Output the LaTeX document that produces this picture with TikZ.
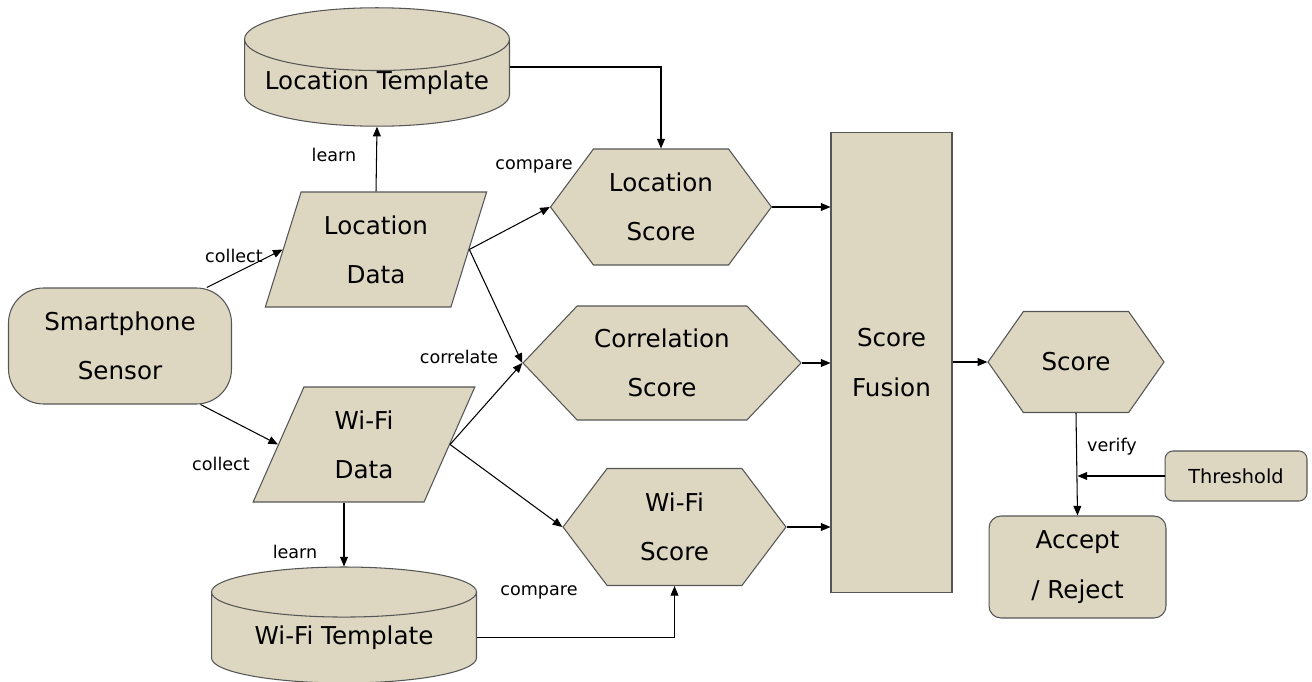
\documentclass[tikz,border=0pt]{standalone}
\usepackage{fontspec}
\setmainfont{DejaVu Sans}
\usetikzlibrary{shapes.geometric,shapes.symbols,arrows.meta}
\definecolor{boxfill}{HTML}{DDD6C1}
\definecolor{boxline}{HTML}{555555}
\begin{document}
\begin{tikzpicture}[x=0.02cm,y=-0.02cm,
    every node/.style={inner sep=0pt},
    blk/.style={draw=boxline,fill=boxfill,line width=0.6pt,align=center,
      font=\fontsize{14}{28}\selectfont},
    datablk/.style={blk,trapezium,trapezium left angle=70,trapezium right angle=110,
      trapezium stretches=true,minimum width=4.44cm,minimum height=2.3cm},
    tplblk/.style={blk,cylinder,shape border rotate=90,aspect=0.28,
      minimum width=5.3cm,minimum height=2.32cm,anchor=shape center},
    scoreblk/.style={blk,signal,signal to=west and east},
    lbl/.style={font=\fontsize{10}{12}\selectfont},
    flow/.style={-{Triangle[length=5.5pt,width=4.5pt]},line width=0.6pt}]
    \useasboundingbox (0,0) rectangle (1312,682);
    % inputs
    \node[blk,rounded corners=0.7cm,minimum width=4.46cm,minimum height=2.32cm] (sensor) at (120,346) {Smartphone\\Sensor};
    \node[datablk] (locdata) at (376,249.5) {Location\\Data};
    \node[datablk] (wdata) at (364,444.5) {Wi-Fi\\Data};
    \node[tplblk] (loctpl) at (377,67) {Location Template};
    \node[tplblk] (wtpl) at (344,625) {Wi-Fi Template};
    % scores
    \node[scoreblk,signal pointer angle=107,minimum width=4.42cm,minimum height=2.32cm] (locscore) at (661,207) {Location\\Score};
    \node[scoreblk,signal pointer angle=93,minimum width=5.56cm,minimum height=2.28cm] (corrscore) at (662,363) {Correlation\\Score};
    \node[scoreblk,signal pointer angle=106,minimum width=4.46cm,minimum height=2.34cm] (wscore) at (674.5,527) {Wi-Fi\\Score};
    \node[blk,minimum width=2.42cm,minimum height=9.22cm] (fusion) at (891.5,362.5) {Score\\Fusion};
    \node[scoreblk,signal pointer angle=110,minimum width=3.52cm,minimum height=2.02cm] (score) at (1076,362) {Score};
    \node[blk,rounded corners=0.16cm,minimum width=2.84cm,minimum height=1cm,
      font=\fontsize{11}{13}\selectfont] (thresh) at (1236,476) {Threshold};
    \node[blk,rounded corners=0.24cm,minimum width=3.54cm,minimum height=2.04cm] (decide) at (1077.5,567) {Accept\\/ Reject};
    \coordinate (vjoin) at (decide.north |- thresh.west);
    % connectors
    \draw[flow] (sensor.34) -- (locdata.west);
    \draw[flow] (sensor.-36) -- (wdata.west);
    \draw[flow] (locdata.north) -- (loctpl.south);
    \draw[flow] (wtpl.north |- wdata.south) -- (wtpl.north);
    \draw[flow] (locdata.east) -- (locscore.west);
    \draw[flow] (locdata.east) -- (corrscore.west);
    \draw[flow] (wdata.east) -- (corrscore.west);
    \draw[flow] (wdata.east) -- (wscore.west);
    \draw[flow] (loctpl.east |- loctpl.shape center) -| (locscore.north);
    \draw[flow] (wtpl.east) -| (wscore.south);
    \draw[flow] (locscore.east) -- (fusion.west |- locscore.east);
    \draw[flow] (corrscore.east) -- (fusion.west |- corrscore.east);
    \draw[flow] (wscore.east) -- (fusion.west |- wscore.east);
    \draw[flow] (fusion.east |- score.west) -- (score.west);
    \draw[flow] (score.south) -- (decide.north);
    \draw[flow] (thresh.west) -- (vjoin);
    % labels
    \node[lbl] (lcol1) at (234,256) {collect};
    \node[lbl] (lcol2) at (221,464) {collect};
    \node[lbl] (llrn1) at (334,155) {learn};
    \node[lbl] (llrn2) at (295,552) {learn};
    \node[lbl] (lcmp1) at (534,166) {compare};
    \node[lbl] (lcmp2) at (539,592) {compare};
    \node[lbl] (lcorr) at (459,357) {correlate};
    \node[lbl] (lver) at (1112,447) {verify};
\end{tikzpicture}
\end{document}
